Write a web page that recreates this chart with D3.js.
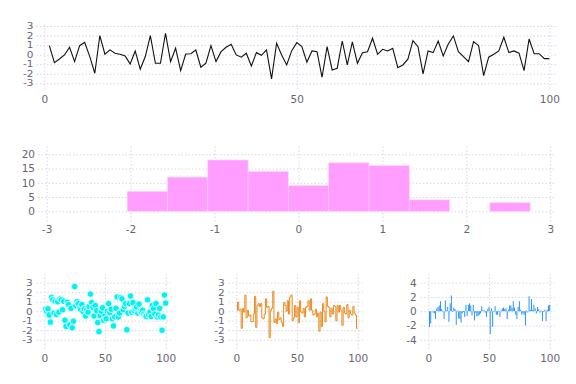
<!DOCTYPE html>
<html>
<head>
<meta charset="utf-8">
<script src="https://cdn.jsdelivr.net/npm/d3@7"></script>
<style>
	body { margin: 0; background: #fff; }
	text { font-family: 'DejaVu Sans', sans-serif; }
</style>
</head>
<body>
<svg id="chart" width="576" height="384"></svg>
<script>
// layout of 5 panels: line, histogram, scatter, steppre, bar

// top panel: line series
var lineValues = [0.94, -0.84, -0.45, -0.03, 0.77, -0.73, 0.94, 1.3, -0.2, -1.95,
	2.0, 0.04, 0.5, 0.15, 0.05, -0.13, -0.97, 0.39, -1.53, -0.2,
	2.0, -0.9, -0.9, 2.24, -0.73, 0.67, -1.67, 0.07, 0.1, 0.49,
	-1.32, -0.9, 0.94, -0.73, 0.31, 0.77, 1.09, -0.03, -0.27, 0.15,
	-1.18, 0.21, -0.07, 0.49, -2.54, 1.19, -0.03, -1.08, 0.42, 1.26,
	0.84, -0.8, 0.39, 0.31, -2.37, 0.84, -1.6, -1.42, 1.43, -1.08,
	1.33, -0.9, 0.21, 0.31, 1.72, 0.04, 0.56, 0.39, 0.67, -1.36,
	-1.08, -0.48, 1.47, 0.84, -2.02, 0.39, 0.21, 1.43, -0.13, 1.12,
	1.96, 0.31, -0.2, -0.73, 1.36, 0.94, -2.2, -0.27, 0.04, 0.39,
	1.82, 0.21, 0.39, 0.15, -1.67, 1.64, 0.1, 0.1, -0.42, -0.42]

// middle panel: histogram bins
var binEdges = [-2.04, -1.56, -1.08, -0.60, -0.12, 0.36, 0.84, 1.32, 1.80, 2.28, 2.76]
var binCounts = [7, 12, 18, 14, 9, 17, 16, 4, 0, 3]

// bottom left: scatter
var scatterValues = [0.2, 0.0, 0.25, -0.4, -1.15, 1.45, 1.2, -0.2, 1.05, -0.35,
	1.0, -0.1, 1.3, 1.2, 0.15, 1.05, -0.95, -1.6, 0.95, 0.7,
	-1.45, 0.3, -1.75, -1.05, 2.6, 0.6, 1.0, 0.8, 0.3, 0.15,
	0.7, -0.05, 0.25, -0.5, 0.15, -0.1, 0.5, 1.8, 0.9, 0.4,
	-0.5, 0.6, 0.05, -1.2, -2.15, -0.45, 0.0, 0.35, -0.95, -0.5,
	-0.8, 0.0, 0.8, -0.15, 0.2, -0.8, -1.55, -0.6, 0.3, 1.5,
	-0.6, -0.2, 1.45, 1.3, 0.15, 0.5, 0.8, -1.95, -0.2, 0.8,
	1.6, -0.1, 0.9, 0.05, 0.3, 0.45, -0.2, 0.75, 0.0, -0.1,
	0.1, -0.3, -0.5, -0.55, 1.2, -0.4, -0.1, -0.55, 0.6, 0.25,
	-0.3, 0.8, -0.6, -0.4, 0.3, -0.6, -2.0, -0.6, 1.7, 0.85]

// bottom middle: steppre
var stepValues = [0.05, 0.95, 0.1, 0.2, -1.8, 0.3, -0.1, 1.7, -0.7, 0.1,
	-0.5, -0.4, -1.1, -1.1, -0.3, 1.55, -1.7, 0.6, 0.8, 0.5,
	0.8, -0.7, -0.8, -0.3, 1.3, 0.4, 0.5, -2.8, 0.1, 0.3,
	2.1, -1.2, -0.8, -1.3, -0.1, -0.9, -0.7, -1.2, -1.6, 0.9,
	0.6, 0.0, 1.1, -0.3, 1.5, 1.7, -1.0, -0.7, 0.6, -0.6,
	0.4, -1.2, 1.1, -0.1, -0.2, 0.3, -0.6, 0.4, 0.5, 1.1,
	0.1, 1.3, 0.1, -0.4, -0.3, 0.2, -0.6, -0.2, -2.1, -0.1,
	-1.6, 0.8, 0.0, -1.1, 1.5, 0.5, 0.4, -0.6, 0.3, -0.3,
	0.6, 0.5, -1.0, 0.6, -0.1, 0.6, 0.1, -1.5, 0.4, -0.2,
	-0.3, 0.7, -0.7, 0.1, -0.3, -0.4, 0.5, -0.2, -0.4, -1.8]

// bottom right: bars
var barValues = [-2.2, -1.7, 0.0, -0.2, -0.3, -1.1, 0.4, 0.6, 0.8, 1.4,
	0.3, 0.1, -1.1, 1.5, 0.1, 0.6, -1.5, 1.1, 2.2, -0.1,
	0.5, 0.3, -1.9, 0.1, -1.0, -1.1, -1.6, -0.3, -0.1, -0.8,
	0.9, -0.7, 0.9, 1.1, 0.8, -0.6, 0.9, -1.3, -0.2, -0.7,
	-0.7, -0.5, -0.3, 0.7, 0.2, 0.1, -0.2, -0.8, 0.3, 0.6,
	-3.2, 0.4, -2.2, -0.1, 0.7, -0.5, -0.5, 0.1, -0.8, 0.1,
	0.4, 0.5, 0.3, 0.4, -1.1, 0.2, 0.8, 0.8, 0.4, 1.4,
	0.5, -0.5, -1.1, 0.6, 1.4, 0.2, -0.5, -0.3, -0.5, -2.0,
	0.1, -0.2, 2.1, 0.2, 1.7, 0.2, 0.9, 0.4, -0.3, 0.6,
	0.3, -0.2, 0.1, -1.4, -0.1, 0.2, -1.4, 0.2, 0.8, 0.9]

var xTicks100 = [0, 50, 100]
var yTicks3 = [-3, -2, -1, 0, 1, 2, 3]
var histXTicks = [-3, -2, -1, 0, 1, 2, 3]
var histYTicks = [0, 5, 10, 15, 20]
var yTicks4 = [-4, -2, 0, 2, 4]

var svg = d3.select('#chart')
var gridColor = '#d8d5e6', textColor = '#6a6472'

// draws dotted grid + tick labels for one panel, returns scales and group
function panel(box, xDom, xRange, yDom, yRange, xt, yt, pads) {
	var g = svg.append('g')
	var x = d3.scaleLinear().domain(xDom).range(xRange)
	var y = d3.scaleLinear().domain(yDom).range(yRange)

	// plain hyphen for negatives, like the original
	var ax = g.append('g').attr('transform', 'translate(0,' + box.bottom + ')')
		.call(d3.axisBottom(x).tickValues(xt).tickFormat(String)
			.tickSize(-(box.bottom - box.top)).tickPadding(pads.x))
	var ay = g.append('g').attr('transform', 'translate(' + box.left + ',0)')
		.call(d3.axisLeft(y).tickValues(yt).tickFormat(String)
			.tickSize(-(box.right - box.left)).tickPadding(pads.y))

	;[ax, ay].forEach(function(a) {
		a.select('.domain').remove()
		a.selectAll('line').attr('stroke', gridColor).attr('stroke-dasharray', '1.5,2')
		a.selectAll('text').attr('fill', textColor).style('font-size', '10.5px')
	})
	// y labels sit close together, squash them a bit
	ay.selectAll('text').attr('transform', 'scale(1,' + pads.squash + ')')
	return {g: g, x: x, y: y}
}

// ---- top: line
var p1 = panel({left: 36.5, right: 556.5, top: 23, bottom: 89},
	[0, 100], [44.3, 549.3], [-3, 3], [83.3, 26], xTicks100, yTicks3, {x: 7, y: 3, squash: 0.78})
p1.g.append('path').datum(lineValues)
	.attr('fill', 'none').attr('stroke', '#111').attr('stroke-width', 1.1)
	.attr('d', d3.line()
		.x(function(d, i) { return p1.x(i + 1) })
		.y(function(d) { return p1.y(d) }))

// ---- middle: histogram
var bins = binCounts.map(function(c, i) { return {x0: binEdges[i], x1: binEdges[i + 1], n: c} })
	.filter(function(b) { return b.n > 0 })

var p2 = panel({left: 38, right: 556, top: 146.5, bottom: 221.5},
	[-3, 3], [46.6, 550.3], [0, 20], [211.3, 154.3], histXTicks, histYTicks, {x: 4, y: 3, squash: 1})
p2.g.selectAll('.bin').data(bins).enter().append('rect')
	.attr('x', function(d) { return p2.x(d.x0) })
	.attr('width', function(d) { return p2.x(d.x1) - p2.x(d.x0) })
	.attr('y', function(d) { return p2.y(d.n) })
	.attr('height', function(d) { return p2.y(0) - p2.y(d.n) })
	.attr('fill', '#ff9eff').attr('stroke', '#ffd2ff').attr('stroke-width', 0.6)

// ---- bottom left: scatter
var p3 = panel({left: 36.7, right: 170.7, top: 274, bottom: 348.7},
	[0, 100], [44.3, 165.7], [-3, 3], [339.7, 282.7], xTicks100, yTicks3, {x: 5.5, y: 4, squash: 0.85})
p3.g.selectAll('.pt').data(scatterValues).enter().append('circle')
	.attr('cx', function(d, i) { return p3.x(i + 1) })
	.attr('cy', function(d) { return p3.y(d) })
	.attr('r', 3.3).attr('fill', '#00f2f2').attr('stroke', '#fff').attr('stroke-width', 0.8)

// ---- bottom middle: steppre
var p4 = panel({left: 228.7, right: 362.7, top: 274, bottom: 348.7},
	[0, 100], [236.3, 357.7], [-3, 3], [339.7, 282.7], xTicks100, yTicks3, {x: 5.5, y: 4, squash: 0.85})
p4.g.append('path').datum(stepValues)
	.attr('fill', 'none').attr('stroke', '#ea8a1e').attr('stroke-width', 1)
	.attr('d', d3.line().curve(d3.curveStepBefore)
		.x(function(d, i) { return p4.x(i + 1) })
		.y(function(d) { return p4.y(d) }))

// ---- bottom right: bars
var p5 = panel({left: 420.7, right: 554.7, top: 274, bottom: 348.7},
	[0, 100], [428.3, 549.7], [-4, 4], [339.7, 282.7], xTicks100, yTicks4, {x: 5.5, y: 4, squash: 1})
p5.g.selectAll('.bar').data(barValues).enter().append('rect')
	.attr('x', function(d, i) { return p5.x(i + 1 - 0.4) })
	.attr('width', p5.x(0.8) - p5.x(0))
	.attr('y', function(d) { return p5.y(Math.max(d, 0)) })
	.attr('height', function(d) { return Math.abs(p5.y(d) - p5.y(0)) })
	.attr('fill', '#1e90ff')
</script>
</body>
</html>
